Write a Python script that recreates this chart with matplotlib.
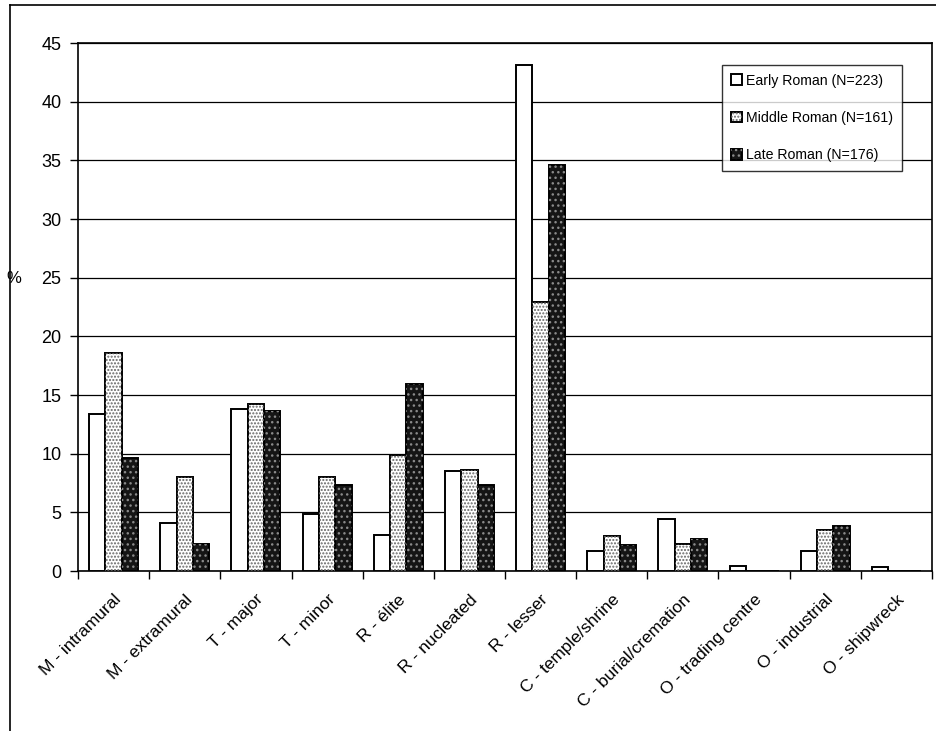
import numpy as np
import matplotlib
matplotlib.use("Agg")
import matplotlib.pyplot as plt
from matplotlib.lines import Line2D

plt.rcParams['font.family'] = ['Liberation Sans', 'DejaVu Sans']

# Dados
categorias = ["M - intramural", "M - extramural", "T - major", "T - minor",
              "R - élite", "R - nucleated", "R - lesser", "C - temple/shrine",
              "C - burial/cremation", "O - trading centre", "O - industrial",
              "O - shipwreck"]
early = [13.4, 4.1, 13.8, 4.9, 3.1, 8.5, 43.1, 1.7, 4.4, 0.4, 1.7, 0.3]
middle = [18.6, 8.0, 14.2, 8.0, 9.9, 8.6, 22.9, 3.0, 2.3, 0.0, 3.5, 0.0]
late = [9.6, 2.3, 13.6, 7.3, 15.9, 7.3, 34.6, 2.2, 2.7, 0.0, 3.8, 0.0]
rotulos = ["Early Roman (N=223)", "Middle Roman (N=161)", "Late Roman (N=176)"]
yticks = [0, 5, 10, 15, 20, 25, 30, 35, 40, 45]

fig = plt.figure(figsize=(9.36, 7.31), dpi=100)
ax = fig.add_axes([78/936, 1-571/731, (932-78)/936, (571-43)/731])

x = np.arange(len(categorias)) + 0.5
w = 0.23

# barras base
b1 = ax.bar(x - w, early, w, color='white', edgecolor='black', linewidth=1.4, zorder=3)
b2 = ax.bar(x, middle, w, color='white', edgecolor='black', linewidth=1.4, zorder=3)
b3 = ax.bar(x + w, late, w, color='#151515', edgecolor='black', linewidth=1.4, zorder=3)
# pontilhado por cima
h2 = ax.bar(x, middle, w, color='none', edgecolor='#666666', hatch='.....', linewidth=0, zorder=4)
h3 = ax.bar(x + w, late, w, color='none', edgecolor='#8a8a8a', hatch='...', linewidth=0, zorder=4)

ax.set_xlim(0, len(categorias))
ax.set_ylim(0, 45)
ax.set_yticks(yticks)
ax.set_yticklabels([str(v) for v in yticks], fontsize=13)
ax.yaxis.grid(True, color='black', linewidth=0.9, zorder=0)
ax.set_axisbelow(True)

ax.set_xticks(np.arange(len(categorias) + 1))
ax.set_xticklabels([])
ax.set_xticks(x, minor=True)
ax.set_xticklabels(categorias, minor=True, rotation=45, ha='right',
                   rotation_mode='anchor', fontsize=12.5)
ax.tick_params(axis='x', which='minor', length=0, pad=15)
ax.tick_params(axis='x', which='major', length=6, width=1, direction='out')
ax.tick_params(axis='y', length=6, width=1, direction='out', pad=6)

for s in ax.spines.values():
    s.set_linewidth(1.2)
    s.set_color('black')

ax.set_ylabel("%", rotation=0, fontsize=12)
ax.yaxis.set_label_coords(-0.075, 0.54)

leg = ax.legend([(b1[0],), (b2[0], h2[0]), (b3[0], h3[0])], rotulos,
                loc='upper left', bbox_to_anchor=((722-78)/854, (571-65)/528),
                fontsize=10.2, frameon=True, fancybox=False, edgecolor='black',
                handlelength=0.8, handleheight=0.8, handletextpad=0.3,
                labelspacing=1.65, borderpad=0.6, borderaxespad=0)
leg.get_frame().set_linewidth(1.0)

# moldura externa
fig.add_artist(Line2D([10/936, 10/936], [0, 1-5/731], color='black', linewidth=1.2))
fig.add_artist(Line2D([10/936, 1], [1-5/731, 1-5/731], color='black', linewidth=1.2))

plt.savefig("out.png", dpi=100)
